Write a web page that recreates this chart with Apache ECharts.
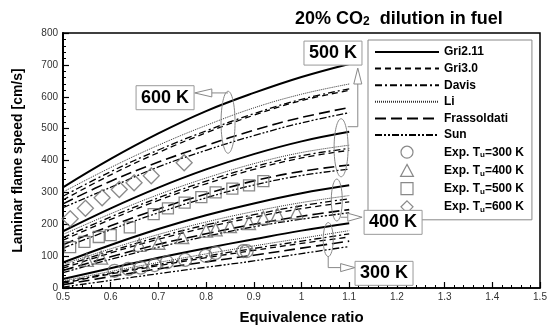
<!DOCTYPE html>
<html><head><meta charset="utf-8">
<script src="https://cdn.jsdelivr.net/npm/echarts@6/dist/echarts.min.js"></script>
<style>html,body{margin:0;padding:0;background:#fff}#c{width:550px;height:330px}</style>
</head><body><div id="c"></div>
<script>
// ---- data ----
const phi = [0.5, 0.6, 0.7, 0.8, 0.9, 1.0, 1.1];
const temps = ['300 K', '400 K', '500 K', '600 K'];
// model curves, one array per temperature (values at phi above)
const gri211_300 = [28, 62, 95, 125, 153, 180, 203];
const gri211_400 = [80, 135, 185, 228, 265, 297, 322];
const gri211_500 = [178, 250, 315, 372, 420, 460, 490];
const gri211_600 = [316, 405, 485, 555, 612, 662, 703];
const gri30_300 = [15, 44, 70, 95, 118, 140, 160];
const gri30_400 = [62, 110, 153, 190, 222, 249, 270];
const gri30_500 = [150, 215, 275, 327, 372, 408, 432];
const gri30_600 = [276, 355, 425, 487, 542, 588, 620];
const davis_300 = [18, 47, 74, 100, 124, 147, 170];
const davis_400 = [68, 116, 160, 198, 230, 258, 280];
const davis_500 = [158, 223, 283, 335, 380, 415, 438];
const davis_600 = [288, 365, 433, 493, 547, 592, 625];
const li_300 = [22, 52, 80, 107, 132, 156, 180];
const li_400 = [74, 123, 168, 207, 240, 268, 290];
const li_500 = [168, 233, 293, 345, 390, 425, 448];
const li_600 = [301, 378, 448, 510, 565, 608, 640];
const frass_300 = [10, 36, 60, 82, 103, 125, 147];
const frass_400 = [55, 98, 137, 170, 200, 225, 246];
const frass_500 = [136, 195, 248, 295, 336, 366, 386];
const frass_600 = [264, 335, 395, 447, 495, 535, 566];
const sun_300 = [3, 24, 45, 65, 85, 108, 130];
const sun_400 = [48, 90, 128, 162, 192, 216, 236];
const sun_500 = [125, 183, 236, 283, 323, 353, 373];
const sun_600 = [252, 316, 380, 432, 478, 518, 550];
// experiments
const exp300Phi = [0.608, 0.637, 0.663, 0.692, 0.718, 0.756, 0.799, 0.820, 0.878, 0.885];
const exp300Val = [54, 60, 64, 72, 81, 88, 101, 110, 116, 116];
const exp400Phi = [0.55, 0.58, 0.66, 0.70, 0.75, 0.80, 0.82, 0.85, 0.89, 0.92, 0.95, 0.99];
const exp400Val = [88, 95, 135, 142, 160, 180, 184, 194, 204, 220, 230, 237];
const exp500Phi = [0.515, 0.545, 0.575, 0.60, 0.64, 0.69, 0.72, 0.755, 0.79, 0.82, 0.855, 0.89, 0.92];
const exp500Val = [128, 145, 160, 166, 190, 232, 250, 268, 285, 300, 312, 322, 335];
const exp600Phi = [0.515, 0.547, 0.582, 0.618, 0.649, 0.685, 0.754];
const exp600Val = [217, 250, 283, 309, 330, 352, 393];
const xTicks = [0.5, 1.5, 0.1];
const yTicks = [0, 800, 100];

// ---- styles ----
const models = [
  {name: 'Gri2.11', sets: [gri211_300, gri211_400, gri211_500, gri211_600], type: 'solid', width: 2, color: '#000'},
  {name: 'Gri3.0', sets: [gri30_300, gri30_400, gri30_500, gri30_600], type: [6, 4], width: 1.3, color: '#000'},
  {name: 'Davis', sets: [davis_300, davis_400, davis_500, davis_600], type: [7, 3, 2, 3], width: 1.3, color: '#000'},
  {name: 'Li', sets: [li_300, li_400, li_500, li_600], type: [1, 1], width: 1, color: '#333'},
  {name: 'Frassoldati', sets: [frass_300, frass_400, frass_500, frass_600], type: [11, 5], width: 1.6, color: '#000'},
  {name: 'Sun', sets: [sun_300, sun_400, sun_500, sun_600], type: [7, 2, 2, 2, 2, 2], width: 1.3, color: '#000'}
];
const exps = [
  {name: 'Exp. Tu=300 K', p: exp300Phi, v: exp300Val, symbol: 'circle', size: 13},
  {name: 'Exp. Tu=400 K', p: exp400Phi, v: exp400Val, symbol: 'triangle', size: 13},
  {name: 'Exp. Tu=500 K', p: exp500Phi, v: exp500Val, symbol: 'rect', size: 11},
  {name: 'Exp. Tu=600 K', p: exp600Phi, v: exp600Val, symbol: 'diamond', size: 16}
];

const series = [];
models.forEach(m => {
  m.sets.forEach((arr, k) => {
    series.push({
      type: 'line', name: m.name, smooth: 0.4, symbol: 'none', z: 3,
      lineStyle: {type: m.type, width: m.width, color: m.color},
      itemStyle: {color: m.color},
      data: phi.map((p, i) => [p, arr[i]])
    });
  });
});
exps.forEach(e => {
  series.push({
    type: 'scatter', name: e.name, symbol: e.symbol, symbolSize: e.size, symbolKeepAspect: true, z: 4,
    itemStyle: {color: 'rgba(255,255,255,0)', borderColor: '#6b6b6b', borderWidth: 1.3},
    data: e.p.map((p, i) => [p, e.v[i]])
  });
});

const legendIcons = {
  'circle': 'path://M50,5A45,45,0,1,1,49.9,5Z',
  'triangle': 'path://M50,8L95,92L5,92Z',
  'rect': 'path://M10,10L90,10L90,90L10,90Z',
  'diamond': 'path://M50,2L98,50L50,98L2,50Z'
};

const FONT = 'Liberation Sans, Arial, sans-serif';
const chart = echarts.init(document.getElementById('c'), null, {renderer: 'canvas'});
chart.setOption({
  animation: false,
  backgroundColor: '#fff',
  title: {
    text: '20% CO{sub|2}  dilution in fuel', left: 290, top: 5,
    textStyle: {fontFamily: FONT, fontWeight: 'bold', fontSize: 18, color: '#000',
      rich: {sub: {fontFamily: FONT, fontWeight: 'bold', fontSize: 12, color: '#000', verticalAlign: 'bottom', padding: [6, 0, 0, 0]}}}
  },
  grid: {left: 63, right: 10, top: 33, bottom: 36, show: true, borderColor: '#000', borderWidth: 1.5, backgroundColor: 'transparent'},
  xAxis: {
    type: 'value', min: xTicks[0], max: xTicks[1], interval: xTicks[2],
    name: 'Equivalence ratio', nameLocation: 'middle', nameGap: 22,
    nameTextStyle: {fontFamily: FONT, fontWeight: 'bold', fontSize: 15, color: '#000'},
    axisLine: {lineStyle: {color: '#000', width: 1.5}},
    axisTick: {inside: true, length: 6, lineStyle: {color: '#000', width: 1.2}},
    minorTick: {show: true, splitNumber: 5, length: 3, lineStyle: {color: '#000'}},
    axisLabel: {fontFamily: FONT, fontSize: 10, color: '#333', margin: 4, formatter: v => String(+v.toFixed(1))},
    splitLine: {show: false}
  },
  yAxis: {
    type: 'value', min: yTicks[0], max: yTicks[1], interval: yTicks[2],
    name: 'Laminar flame speed [cm/s]', nameLocation: 'middle', nameGap: 38,
    nameTextStyle: {fontFamily: FONT, fontWeight: 'bold', fontSize: 14, color: '#000'},
    axisLine: {lineStyle: {color: '#000', width: 2}},
    axisTick: {inside: true, length: 6, lineStyle: {color: '#000', width: 1.2}},
    minorTick: {show: true, splitNumber: 5, length: 3, lineStyle: {color: '#000'}},
    axisLabel: {fontFamily: FONT, fontSize: 10, color: '#333', margin: 5},
    splitLine: {show: false}
  },
  legend: {
    orient: 'vertical', left: 368, top: 40,
    data: models.map(m => ({name: m.name, itemStyle: {opacity: 0}}))
      .concat(exps.map(e => ({name: e.name, icon: legendIcons[e.symbol],
        itemStyle: {color: 'rgba(255,255,255,0)', borderColor: '#6b6b6b', borderWidth: 1.2}}))),
    itemWidth: 64, itemHeight: 12, itemGap: 4.6,
    symbolKeepAspect: true,
    padding: [6, 8, 6, 6],
    borderColor: '#888', borderWidth: 1, backgroundColor: '#fff',
    formatter: n => n.replace('Tu', 'T{sub|u}'),
    textStyle: {fontFamily: FONT, fontWeight: 'bold', fontSize: 12, color: '#000', width: 88,
      rich: {sub: {fontFamily: FONT, fontWeight: 'bold', fontSize: 8, color: '#000', verticalAlign: 'bottom', padding: [6, 0, 0, 0]}}}
  },
  series: series
});

// ---- annotations (anchored in data coordinates) ----
const annos = [
  {label: '600 K', box: [0.714, 597], ell: [0.846, 520, 7, 31],
   path: [[0.846, 612], [0.812, 612]], tip: [0.776, 612], dir: 'left'},
  {label: '500 K', box: [1.066, 737], ell: [1.083, 440, 7, 29],
   path: [[1.097, 506], [1.118, 506], [1.118, 640]], tip: [1.118, 690], dir: 'up'},
  {label: '400 K', box: [1.192, 206], ell: [1.074, 276, 5.5, 21],
   path: [[1.082, 222], [1.097, 222]], tip: [1.127, 222], dir: 'right'},
  {label: '300 K', box: [1.173, 46], ell: [1.056, 152, 5, 17],
   path: [[1.056, 100], [1.056, 64], [1.082, 64]], tip: [1.112, 64], dir: 'right'}
];
const P = (pt) => chart.convertToPixel({gridIndex: 0}, pt);
const g = [];
annos.forEach(a => {
  const c = P(a.ell);
  g.push({type: 'ellipse', shape: {cx: c[0], cy: c[1], rx: a.ell[2], ry: a.ell[3]},
    style: {fill: 'none', stroke: '#888', lineWidth: 1}, z: 10});
  const pts = a.path.map(P);
  const t = P(a.tip);
  const last = pts[pts.length - 1];
  g.push({type: 'polyline', shape: {points: pts}, style: {stroke: '#888', lineWidth: 1, fill: 'none'}, z: 10});
  let tri;
  if (a.dir === 'left' || a.dir === 'right') tri = [[last[0], last[1] - 4], [last[0], last[1] + 4], t];
  else tri = [[last[0] - 4, last[1]], [last[0] + 4, last[1]], t];
  g.push({type: 'polygon', shape: {points: tri}, style: {fill: '#fff', stroke: '#888', lineWidth: 1}, z: 10});
  const b = P(a.box);
  g.push({type: 'rect', shape: {x: b[0] - 29, y: b[1] - 12, width: 58, height: 24},
    style: {fill: '#fff', stroke: '#999', lineWidth: 1}, z: 11});
  g.push({type: 'text', x: b[0], y: b[1], style: {text: a.label, fontFamily: FONT, fontWeight: 'bold', fontSize: 18,
    fill: '#000', align: 'center', verticalAlign: 'middle'}, z: 12});
});
chart.setOption({graphic: g});
</script></body></html>
